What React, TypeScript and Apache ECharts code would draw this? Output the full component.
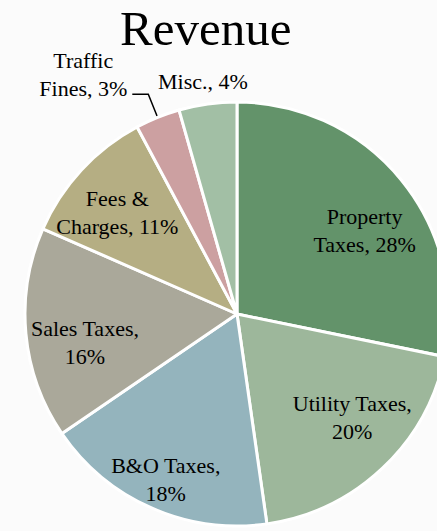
import { useEffect, useRef } from "react";
import * as echarts from "echarts";

// ---- data ----
const title = "Revenue";
const categories = [
  "Property Taxes",
  "Utility Taxes",
  "B&O Taxes",
  "Sales Taxes",
  "Fees & Charges",
  "Traffic Fines",
  "Misc.",
];
// slice sizes (they round to the printed percentages)
const shares = [28.2, 19.5, 17.7, 16.1, 10.6, 3.4, 4.4];
const colors = ["#63936a", "#9db79b", "#94b4bd", "#aaa89a", "#b5ae83", "#cca0a1", "#a2bfa5"];

// ---- layout / style ----
const CX = 237;
const CY = 314;
const R = 212;
const FONT = '"Liberation Serif", "DejaVu Serif", serif';
// how each label wraps: "name" breaks the name at its last space, "comma" breaks after the comma
const breakMode = ["name", "comma", "comma", "comma", "name", "name", "none"];
// label placement relative to the slice: radius factor (null = outside with leader line) and angle nudge
const labelRadius: (number | null)[] = [0.72, 0.73, 0.85, 0.73, 0.74, null, 1.11];
const labelShift = [-5.9, 4.9, 0.5, 5.4, 2.5, 0, 0.4];

function labelText(i: number): string {
  const name = categories[i];
  const pct = `${Math.round(shares[i])}%`;
  const mode = breakMode[i];
  if (mode === "comma") return `${name},\n${pct}`;
  if (mode === "name") {
    const k = name.lastIndexOf(" ");
    return `${name.slice(0, k)}\n${name.slice(k + 1)}, ${pct}`;
  }
  return `${name}, ${pct}`;
}

export default function App() {
  const ref = useRef<HTMLDivElement>(null);

  useEffect(() => {
    if (!ref.current) return;
    const chart = echarts.init(ref.current, undefined, { renderer: "svg" });

    const total = shares.reduce((a, b) => a + b, 0);
    const midAngles: number[] = [];
    let cum = 0;
    shares.forEach((v) => {
      midAngles.push(90 - (360 * (cum + v / 2)) / total);
      cum += v;
    });

    const data = categories.map((name, i) => {
      const item: any = {
        name,
        value: shares[i],
        itemStyle: { color: colors[i] },
      };
      if (labelRadius[i] == null) {
        item.label = { position: "outside", padding: [0, 0, 40, 0] };
        item.labelLine = {
          show: true,
          length: 25,
          length2: 16,
          lineStyle: { color: "#000", width: 1.5 },
        };
      } else {
        item.label = { position: "inside" };
        item.labelLine = { show: false };
      }
      return item;
    });

    chart.setOption({
      animation: false,
      backgroundColor: "#fbfbfb",
      title: {
        text: title,
        left: 120,
        top: 4,
        padding: 0,
        textStyle: {
          fontFamily: FONT,
          fontSize: 49,
          fontWeight: "normal",
          color: "#000",
        },
      },
      series: [
        {
          type: "pie",
          silent: true,
          center: [CX, CY],
          radius: R,
          startAngle: 90,
          clockwise: true,
          avoidLabelOverlap: false,
          itemStyle: { borderColor: "#ffffff", borderWidth: 3 },
          label: {
            show: true,
            color: "#000",
            fontFamily: FONT,
            fontSize: 22,
            lineHeight: 28,
            distanceToLabelLine: 5,
            formatter: (p: any) =>
              labelText(p.dataIndex)
                .split("\n")
                .map((l) => `{c|${l}}`)
                .join("\n"),
            rich: {
              c: {
                align: "center",
                color: "#000",
                fontFamily: FONT,
                fontSize: 22,
                lineHeight: 28,
              },
            },
          },
          labelLayout: (params: any) => {
            const i = params.dataIndex;
            const f = labelRadius[i];
            if (f == null) return {};
            const a = ((midAngles[i] + labelShift[i]) * Math.PI) / 180;
            return { x: CX + f * R * Math.cos(a), y: CY - f * R * Math.sin(a) };
          },
          data,
        },
      ],
    });

    return () => chart.dispose();
  }, []);

  return (
    <div
      ref={ref}
      style={{ position: "fixed", left: 0, top: 0, width: 437, height: 531 }}
    />
  );
}
